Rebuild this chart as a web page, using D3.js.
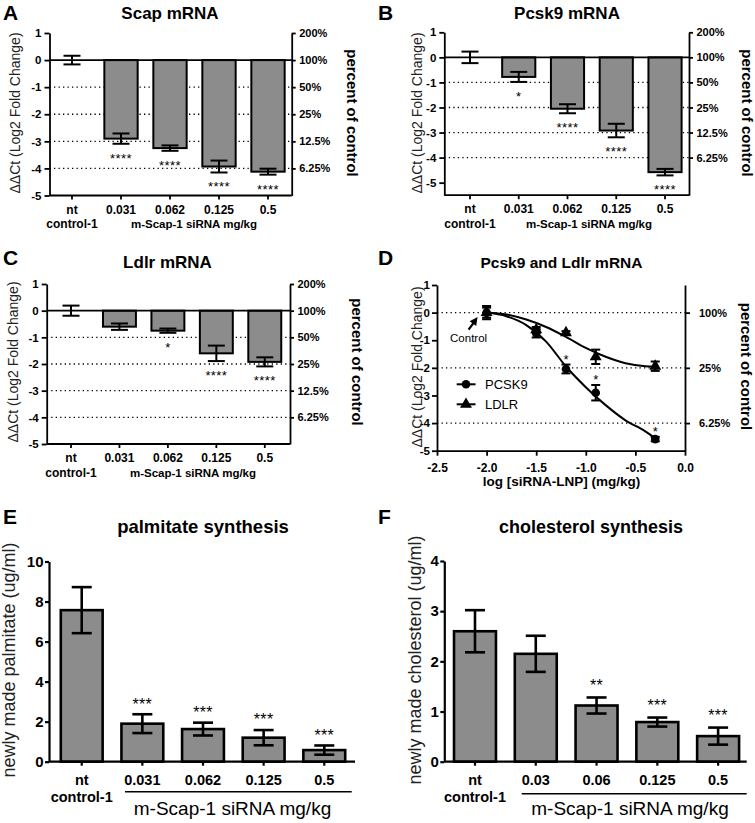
<!DOCTYPE html>
<html><head><meta charset="utf-8">
<script src="https://cdn.jsdelivr.net/npm/d3@7"></script>
<style>
body{margin:0;background:#fff}
svg{display:block}
text{font-family:"Liberation Sans",Arial,Helvetica,sans-serif}
</style>
</head><body>
<svg id="chart" width="755" height="823"></svg>
<script>
// ---------------- DATA ----------------
// Panels A-C : qPCR (ΔΔCt)
const mrnaDoses = ["nt", "0.031", "0.062", "0.125", "0.5"];
const scapMean  = [0, -2.9, -3.25, -3.93, -4.12];
const scapErr   = [0.16, 0.19, 0.10, 0.22, 0.11];
const scapSig   = ["", "****", "****", "****", "****"];
const pcsk9Mean = [0, -0.78, -2.05, -2.92, -4.58];
const pcsk9Err  = [0.23, 0.20, 0.18, 0.27, 0.13];
const pcsk9Sig  = ["", "*", "****", "****", "****"];
const ldlrMean  = [0, -0.6, -0.75, -1.6, -1.92];
const ldlrErr   = [0.19, 0.12, 0.08, 0.29, 0.17];
const ldlrSig   = ["", "", "*", "****", "****"];
const log2Ticks = [1, 0, -1, -2, -3, -4, -5];
const log2Grid  = [-1, -2, -3, -4];
const pctTickVals   = [1, 0, -1, -2, -3, -4];
const pctTickLabels = ["200%", "100%", "50%", "25%", "12.5%", "6.25%"];

// Panel D : dose response
const logDose   = [-2, -1.5, -1.2, -0.9, -0.3];
const dPcsk9    = [0, -0.75, -2.04, -2.9, -4.58];
const dPcsk9Err = [0.24, 0.15, 0.16, 0.28, 0.08];
const dPcsk9Sig = ["", "", "*", "*", "*"];
const dLdlr     = [0, -0.62, -0.73, -1.6, -1.94];
const dLdlrErr  = [0.18, 0.10, 0.06, 0.26, 0.17];
const fitX      = [-2, -1.8, -1.6, -1.4, -1.2, -1.0, -0.8, -0.6, -0.4, -0.3];
const pcsk9FitY = [0, -0.13, -0.45, -1.05, -1.95, -2.7, -3.35, -3.9, -4.3, -4.55];
const ldlrFitY  = [0, -0.07, -0.25, -0.52, -0.88, -1.28, -1.6, -1.83, -1.94, -1.96];
const dXTicks   = [-2.5, -2, -1.5, -1, -0.5, 0];
const dYTicks   = [1, 0, -1, -2, -3, -4, -5];
const dPctVals  = [0, -2, -4];
const dPctLabels = ["100%", "25%", "6.25%"];

// Panel E : palmitate synthesis
const palmDoses = ["nt", "0.031", "0.062", "0.125", "0.5"];
const palmMean  = [7.57, 1.9, 1.63, 1.2, 0.58];
const palmErr   = [1.15, 0.47, 0.32, 0.38, 0.23];
const palmSig   = ["", "***", "***", "***", "***"];
const palmTicks = [0, 2, 4, 6, 8, 10];

// Panel F : cholesterol synthesis
const cholDoses = ["nt", "0.03", "0.06", "0.125", "0.5"];
const cholMean  = [2.6, 2.15, 1.12, 0.79, 0.51];
const cholErr   = [0.42, 0.36, 0.16, 0.09, 0.17];
const cholSig   = ["", "", "**", "***", "***"];
const cholTicks = [0, 1, 2, 3, 4];

// ---------------- DRAWING ----------------
const svg = d3.select("#chart");

function txt(g, x, y, s, o = {}) {
  const t = g.append("text").attr("x", x).attr("y", y).text(s)
    .attr("fill", o.fill || "#000")
    .attr("text-anchor", o.anchor || "middle")
    .style("font-size", (o.size || 12) + "px")
    .style("font-weight", o.bold ? "bold" : "normal");
  if (o.rotate !== undefined) t.attr("transform", `rotate(${o.rotate},${x},${y})`);
  if (o.ls) t.style("letter-spacing", o.ls + "px");
  return t;
}

function styleAxis(a, fs, sw) {
  a.select(".domain").attr("stroke", "#000").attr("stroke-width", sw);
  a.selectAll(".tick line").attr("stroke", "#000").attr("stroke-width", sw);
  a.selectAll(".tick text").attr("fill", "#000")
    .style("font-size", fs + "px").style("font-weight", "bold");
}

function barPanel(o) {
  const g = svg.append("g");
  const x = d3.scaleBand().domain(o.cats).range(o.band).paddingInner(o.pad).paddingOuter(o.pad / 2);
  const y = d3.scaleLinear().domain(o.yDomain).range([o.bottom, o.top]);
  const data = o.cats.map((c, i) => ({ c, v: o.mean[i], e: o.err[i], s: o.sig[i] }));
  const cx = c => x(c) + x.bandwidth() / 2;

  // dotted grid
  g.selectAll("line.grid").data(o.grid || []).join("line").attr("class", "grid")
    .attr("x1", o.axL).attr("x2", o.axR).attr("y1", d => y(d)).attr("y2", d => y(d))
    .attr("stroke", "#000").attr("stroke-width", 1.3).attr("stroke-dasharray", "1.3,3.2");

  // bars
  g.selectAll("rect.bar").data(data.filter(d => d.v !== 0)).join("rect").attr("class", "bar")
    .attr("x", d => x(d.c)).attr("width", x.bandwidth())
    .attr("y", d => Math.min(y(0), y(d.v))).attr("height", d => Math.abs(y(d.v) - y(0)))
    .attr("fill", "#8c8c8c").attr("stroke", "#000").attr("stroke-width", o.barSW);

  // zero line
  if (o.zeroLine) g.append("line").attr("x1", o.axL).attr("x2", o.axR)
    .attr("y1", y(0)).attr("y2", y(0)).attr("stroke", "#000").attr("stroke-width", 1.6);

  // error bars
  const eb = g.selectAll("g.eb").data(data).join("g").attr("class", "eb");
  eb.append("line").attr("x1", d => cx(d.c)).attr("x2", d => cx(d.c))
    .attr("y1", d => y(d.v - d.e)).attr("y2", d => y(d.v + d.e))
    .attr("stroke", "#000").attr("stroke-width", o.ebSW);
  [-1, 1].forEach(sgn => {
    eb.append("line").attr("x1", d => cx(d.c) - o.cap / 2).attr("x2", d => cx(d.c) + o.cap / 2)
      .attr("y1", d => y(d.v + sgn * d.e)).attr("y2", d => y(d.v + sgn * d.e))
      .attr("stroke", "#000").attr("stroke-width", o.ebSW);
  });

  // significance
  data.filter(d => d.s).forEach(d => {
    const yy = o.starBelow ? y(d.v - d.e) + o.starOff : y(d.v + d.e) - o.starOff;
    txt(g, cx(d.c), yy, d.s, { size: o.starSize, ls: o.starLS });
  });

  // left axis
  const la = g.append("g").attr("transform", `translate(${o.axL},0)`)
    .call(d3.axisLeft(y).tickValues(o.yTicks).tickSize(o.tick).tickSizeOuter(0)
      .tickPadding(o.tickPad).tickFormat(d => String(d)));
  styleAxis(la, o.yFont, o.axSW);

  // bottom axis line + ticks
  g.append("line").attr("x1", o.axL).attr("x2", o.axR).attr("y1", o.bottom).attr("y2", o.bottom)
    .attr("stroke", "#000").attr("stroke-width", o.axSW);
  g.selectAll("line.xt").data(o.cats).join("line").attr("class", "xt")
    .attr("x1", cx).attr("x2", cx).attr("y1", o.bottom).attr("y2", o.bottom + 4)
    .attr("stroke", "#000").attr("stroke-width", o.axSW);
  o.cats.forEach(c => txt(g, cx(c), o.bottom + o.lab1, c, { size: o.xFont, bold: true }));
  txt(g, cx(o.cats[0]), o.bottom + o.lab2, "control-1", { size: o.xFont, bold: true });
  txt(g, o.groupX, o.bottom + o.lab3, "m-Scap-1 siRNA mg/kg", { size: o.groupFont, bold: o.groupBold });
  if (o.underline) g.append("line").attr("x1", o.underline[0]).attr("x2", o.underline[1])
    .attr("y1", o.bottom + o.underline[2]).attr("y2", o.bottom + o.underline[2])
    .attr("stroke", "#000").attr("stroke-width", 1.6);

  // right axis
  if (o.pct) {
    const ra = g.append("g").attr("transform", `translate(${o.axR},0)`)
      .call(d3.axisRight(y).tickValues(pctTickVals).tickSize(4).tickSizeOuter(0).tickPadding(3.5)
        .tickFormat((d, i) => pctTickLabels[i]));
    styleAxis(ra, 11, o.axSW);
    txt(g, o.pctX, o.pctY, "percent of control", { size: 15, bold: true, rotate: 90 });
  }

  // titles
  txt(g, o.letter[1], o.letter[2], o.letter[0], { size: 21, bold: true, anchor: "start" });
  txt(g, o.title[1], o.title[2], o.title[0], { size: o.title[3], bold: true });
  txt(g, o.ylab[1], o.ylab[2], o.ylab[0], { size: o.ylab[3], rotate: -90, fill: "#222" });
}

const ylab = "ΔΔCt (Log2 Fold Change)";
const mrnaCommon = {
  cats: mrnaDoses, pad: 0.32, grid: log2Grid, barSW: 2, zeroLine: true, ebSW: 2, cap: 17,
  starBelow: true, starOff: 19, starSize: 13, starLS: 0.4, yTicks: log2Ticks, tick: 5, tickPad: 3,
  yFont: 11.5, axSW: 1.8, xFont: 12, lab1: 18, lab2: 32.5, lab3: 32.5, groupFont: 11.5, groupBold: true,
  pct: true
};

// A
barPanel(Object.assign({}, mrnaCommon, {
  mean: scapMean, err: scapErr, sig: scapSig, band: [47.5, 292.5], yDomain: [-5, 1],
  top: 33, bottom: 195.5, axL: 49.5, axR: 291.7, groupX: 194,
  pctX: 347, pctY: 113, letter: ["A", 3, 20], title: ["Scap mRNA", 170, 18.5, 17],
  ylab: [ylab, 19.5, 113, 14]
}));
// B
barPanel(Object.assign({}, mrnaCommon, {
  mean: pcsk9Mean, err: pcsk9Err, sig: pcsk9Sig, band: [445.6, 689.4], yDomain: [-5.5, 1],
  top: 32.3, bottom: 195.2, axL: 444.3, axR: 689, groupX: 589,
  pctX: 742, pctY: 113, letter: ["B", 378, 20], title: ["Pcsk9 mRNA", 567, 18.5, 17],
  ylab: [ylab, 421.5, 113, 14]
}));
// C
barPanel(Object.assign({}, mrnaCommon, {
  mean: ldlrMean, err: ldlrErr, sig: ldlrSig, band: [46.8, 289], yDomain: [-5, 1],
  top: 284, bottom: 444, axL: 46.7, axR: 290, groupX: 193,
  pctX: 352, pctY: 362, letter: ["C", 3, 265], title: ["Ldlr mRNA", 167.5, 267.5, 17],
  ylab: [ylab, 18, 362, 14]
}));

// D
(function () {
  const g = svg.append("g");
  const x = d3.scaleLinear().domain([-2.5, 0]).range([437, 685]);
  const y = d3.scaleLinear().domain([-5, 1]).range([450.7, 285]);
  g.selectAll("line.grid").data(dPctVals).join("line")
    .attr("x1", x(-2.5)).attr("x2", x(0)).attr("y1", d => y(d)).attr("y2", d => y(d))
    .attr("stroke", "#000").attr("stroke-width", 1.3).attr("stroke-dasharray", "1.3,3.2");

  const line = d3.line().x(d => x(d[0])).y(d => y(d[1])).curve(d3.curveMonotoneX);
  [pcsk9FitY, ldlrFitY].forEach(fy => {
    g.append("path").attr("d", line(fitX.map((v, i) => [v, fy[i]])))
      .attr("fill", "none").attr("stroke", "#000").attr("stroke-width", 2);
  });

  function series(vals, errs, marker) {
    logDose.forEach((xv, i) => {
      const px = x(xv);
      g.append("line").attr("x1", px).attr("x2", px).attr("y1", y(vals[i] - errs[i])).attr("y2", y(vals[i] + errs[i]))
        .attr("stroke", "#000").attr("stroke-width", 2);
      [-1, 1].forEach(s => g.append("line").attr("x1", px - 4.5).attr("x2", px + 4.5)
        .attr("y1", y(vals[i] + s * errs[i])).attr("y2", y(vals[i] + s * errs[i]))
        .attr("stroke", "#000").attr("stroke-width", 2));
      marker(px, y(vals[i]));
    });
  }
  const circ = (px, py) => g.append("circle").attr("cx", px).attr("cy", py).attr("r", 4.3).attr("fill", "#000");
  const tri = (px, py) => g.append("path").attr("d", d3.symbol().type(d3.symbolTriangle).size(62)())
    .attr("transform", `translate(${px},${py})`).attr("fill", "#000");
  series(dLdlr, dLdlrErr, tri);
  series(dPcsk9, dPcsk9Err, circ);
  logDose.forEach((xv, i) => {
    if (dPcsk9Sig[i]) txt(g, x(xv), y(dPcsk9[i] + dPcsk9Err[i]) - 0.5, dPcsk9Sig[i], { size: 13 });
  });

  // axes
  const la = g.append("g").attr("transform", `translate(${x(-2.5)},0)`)
    .call(d3.axisLeft(y).tickValues(dYTicks).tickSize(5).tickSizeOuter(0).tickPadding(2).tickFormat(d => String(d)));
  styleAxis(la, 11.5, 1.8);
  const ba = g.append("g").attr("transform", `translate(0,${y(-5)})`)
    .call(d3.axisBottom(x).tickValues(dXTicks).tickSize(5).tickSizeOuter(0).tickPadding(7.5).tickFormat(d => d.toFixed(1)));
  styleAxis(ba, 12, 1.8);
  const ra = g.append("g").attr("transform", `translate(${x(0)},0)`)
    .call(d3.axisRight(y).tickValues(dPctVals).tickSize(5).tickSizeOuter(0).tickPadding(9)
      .tickFormat((d, i) => dPctLabels[i]));
  styleAxis(ra, 11, 1.8);

  txt(g, 561.5, 486, "log [siRNA-LNP] (mg/kg)", { size: 13.5, bold: true });
  txt(g, 741, 366.5, "percent of control", { size: 15, bold: true, rotate: 90 });
  txt(g, 378, 265, "D", { size: 21, bold: true, anchor: "start" });
  txt(g, 561.5, 267.5, "Pcsk9 and Ldlr mRNA", { size: 15.5, bold: true });
  txt(g, 421.5, 367, ylab, { size: 14, rotate: -90, fill: "#222" });

  // control annotation
  const ax = x(-2), ay = y(0);
  const hx = ax - 9, hy = ay + 4.5, tx = ax - 18, ty = ay + 17;
  g.append("line").attr("x1", tx).attr("y1", ty).attr("x2", hx - 2).attr("y2", hy + 3)
    .attr("stroke", "#000").attr("stroke-width", 2.2);
  const ang = Math.atan2(hy - ty, hx - tx);
  const L = 8, Wd = 4;
  const p = [[hx, hy],
    [hx - L * Math.cos(ang) + Wd * Math.sin(ang), hy - L * Math.sin(ang) - Wd * Math.cos(ang)],
    [hx - L * Math.cos(ang) - Wd * Math.sin(ang), hy - L * Math.sin(ang) + Wd * Math.cos(ang)]];
  g.append("path").attr("d", "M" + p.map(q => q.join(",")).join("L") + "Z").attr("fill", "#000");
  txt(g, ax - 18, ay + 29, "Control", { size: 11.5 });

  // legend
  const lg = [["PCSK9", circ, 384.3], ["LDLR", tri, 404.3]];
  lg.forEach(([name, mk, ly]) => {
    g.append("line").attr("x1", 456.7).attr("x2", 475.5).attr("y1", ly).attr("y2", ly)
      .attr("stroke", "#000").attr("stroke-width", 2);
    mk(466, ly);
    txt(g, 485, ly + 4.7, name, { size: 13, anchor: "start" });
  });
})();

// E & F
const bigCommon = {
  pad: 0.31, barSW: 2.6, zeroLine: false, ebSW: 2.6, cap: 20, starBelow: false, starOff: 4.7,
  starSize: 16, starLS: 0.3, tick: 4, tickPad: 1.5, yFont: 15, axSW: 2.2, xFont: 14.5,
  lab1: 23.5, lab2: 40.5, lab3: 53.5, groupFont: 19, groupBold: false, pct: false
};
barPanel(Object.assign({}, bigCommon, {
  cats: palmDoses, mean: palmMean, err: palmErr, sig: palmSig, band: [51.4, 354.6], yDomain: [0, 10],
  top: 561.5, bottom: 761.7, axL: 49, axR: 355, yTicks: palmTicks, groupX: 232.5,
  underline: [125, 351.7, 30], letter: ["E", 3, 524], title: ["palmitate synthesis", 203, 533, 18.5],
  ylab: ["newly made palmitate (ug/ml)", 14.5, 660, 18]
}));
barPanel(Object.assign({}, bigCommon, {
  cats: cholDoses, mean: cholMean, err: cholErr, sig: cholSig, band: [444.6, 748.5], yDomain: [0, 4],
  top: 561, bottom: 761.7, axL: 444.3, axR: 746.7, yTicks: cholTicks, groupX: 630, starOff: 6.7,
  underline: [521.7, 746.7, 32], letter: ["F", 378, 524], title: ["cholesterol synthesis", 591, 533, 18],
  ylab: ["newly made cholesterol (ug/ml)", 420.5, 660, 18]
}));
</script>
</body></html>
